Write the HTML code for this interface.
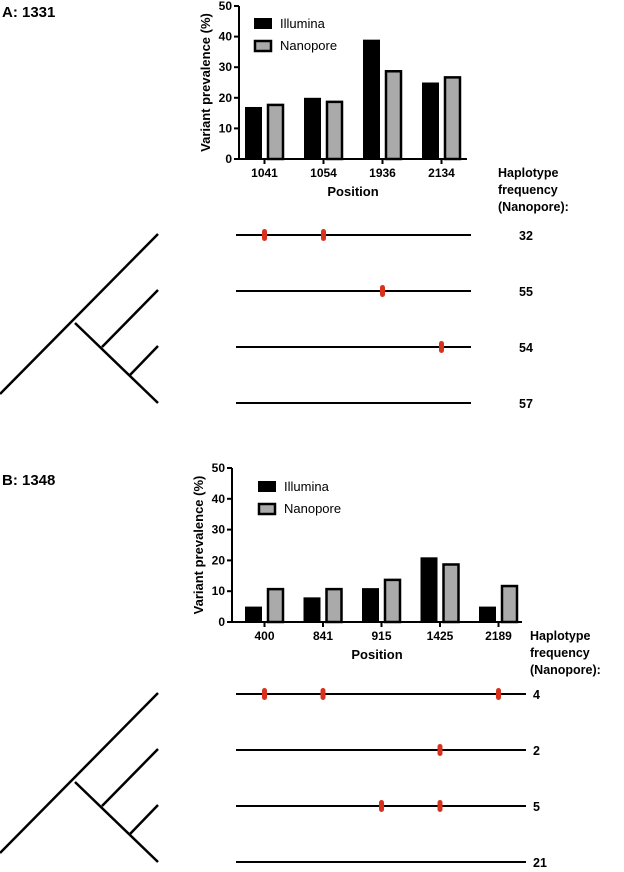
<!DOCTYPE html>
<html><head><meta charset="utf-8"><style>
body{margin:0;background:#fff;width:624px;height:867px;overflow:hidden}
svg text{font-family:"Liberation Sans",sans-serif;font-weight:bold;fill:#000}
</style></head><body>
<svg id="s" width="624" height="867" xmlns="http://www.w3.org/2000/svg"></svg>
<script>
const catsA=["1041","1054","1936","2134"];
const illA=[17,20,39,25];
const nanoA=[18,19,29,27];
const freqA=["32","55","54","57"];
const hapA=[[0,1],[2],[3],[]];
const catsB=["400","841","915","1425","2189"];
const illB=[5,8,11,21,5];
const nanoB=[11,11,14,19,12];
const freqB=["4","2","5","21"];
const hapB=[[0,1,4],[3],[2,3],[]];
const yTicks=[0,10,20,30,40,50];
const NS="http://www.w3.org/2000/svg";
const s=document.getElementById('s');
function el(t,a,txt){const e=document.createElementNS(NS,t);for(const k in a)e.setAttribute(k,a[k]);if(txt!=null)e.textContent=txt;s.appendChild(e);return e;}
function panel(o){
 const yS=v=>o.y0-(v/50)*(o.y0-o.y50);
 const xC=i=>o.x0+25.5+i*o.gap;
 let t=el('text',{x:2,y:o.titleY,'font-size':15},o.title);
 
 let a=el('line',{x1:o.ax,y1:o.y50,x2:o.ax,y2:o.y0,stroke:'#000','stroke-width':2});
 
 a=el('line',{x1:o.ax,y1:o.y0,x2:o.xEnd,y2:o.y0,stroke:'#000','stroke-width':2});
 
 yTicks.forEach(v=>{const y=yS(v);
  let l=el('line',{x1:o.ax-5,y1:y,x2:o.ax,y2:y,stroke:'#000','stroke-width':2});
  
  let tx=el('text',{x:o.ax-7,y:y+4,'font-size':12,'text-anchor':'end'},String(v));
  });
 let yt=el('text',{x:0,y:0,'font-size':13,'text-anchor':'middle',transform:`translate(${o.ax-29},${(o.y0+o.y50)/2}) rotate(-90)`},'Variant prevalence (%)');
 
 o.cats.forEach((c,i)=>{const cx=xC(i);
  let b=el('rect',{x:cx-19.5,y:yS(o.ill[i]),width:17,height:o.y0-yS(o.ill[i]),fill:'#000'});
  
  b=el('rect',{x:cx+3.5,y:yS(o.nano[i])+1,width:15,height:o.y0-yS(o.nano[i])-1,fill:'#aaa',stroke:'#000','stroke-width':2.5});
  
  let l=el('line',{x1:cx,y1:o.y0,x2:cx,y2:o.y0+5,stroke:'#000','stroke-width':2});
  
  let tx=el('text',{x:cx,y:o.y0+18,'font-size':12,'text-anchor':'middle'},c);
  
 });
 let xt=el('text',{x:(o.ax+o.xEnd)/2,y:o.y0+37,'font-size':13,'text-anchor':'middle'},'Position');
 
 let r=el('rect',{x:o.lx,y:o.ly,width:18,height:11,fill:'#000'});
 r=el('text',{x:o.lx+26,y:o.ly+10,'font-size':13},'Illumina');r.style.fontWeight='normal';
 r=el('rect',{x:o.lx+1,y:o.ly+23,width:16,height:10,fill:'#aaa',stroke:'#000','stroke-width':2.5});
 r=el('text',{x:o.lx+26,y:o.ly+32,'font-size':13},'Nanopore');r.style.fontWeight='normal';
 ['Haplotype','frequency','(Nanopore):'].forEach((w,k)=>{let h=el('text',{x:o.hx,y:o.y0+18+k*17,'font-size':12.5},w);});
 o.hap.forEach((m,k)=>{const y=o.hy+k*56;
  let l=el('line',{x1:236,y1:y,x2:o.lineEnd,y2:y,stroke:'#000','stroke-width':2});
  
  m.forEach(i=>{let e=el('rect',{x:xC(i)-2.5,y:y-6,width:5,height:12,rx:2.5,fill:'#d8321f'});
   });
  let f=el('text',{x:o.fx,y:y+5,'font-size':12.5},o.freq[k]);
  
 });
 const T=o.hy-1;
 [[0,160,158,0],[75,89,158,169],[102,113,158,56],[130,141,158,112]].forEach(q=>{
  let l=el('line',{x1:q[0],y1:T+q[1],x2:q[2],y2:T+q[3],stroke:'#000','stroke-width':2.5});
  });
}
panel({title:'A: 1331',titleY:17,cats:catsA,ill:illA,nano:nanoA,freq:freqA,hap:hapA,ax:239,x0:239,gap:59,y0:159,y50:6,xEnd:467,lx:254,ly:18,hx:498,hy:235,lineEnd:471,fx:519});
panel({title:'B: 1348',titleY:485,cats:catsB,ill:illB,nano:nanoB,freq:freqB,hap:hapB,ax:232,x0:239,gap:58.5,y0:622,y50:468,xEnd:522,lx:258,ly:481,hx:530,hy:694,lineEnd:526,fx:533});
</script>
</body></html>
